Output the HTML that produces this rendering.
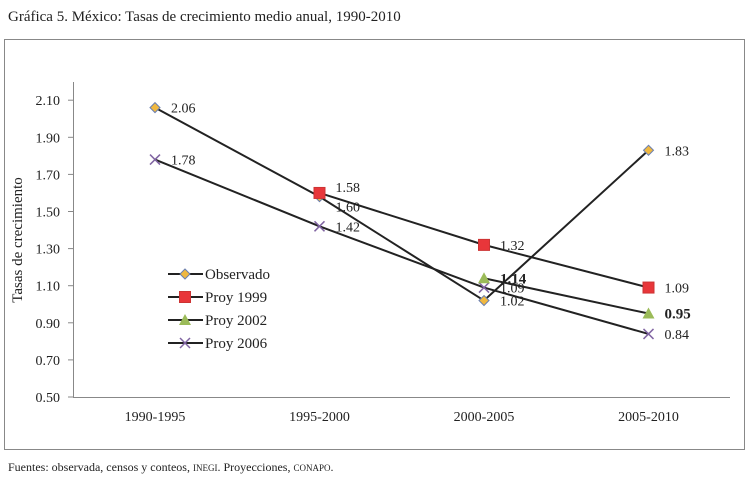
<!DOCTYPE html>
<html><head><meta charset="utf-8"><style>
body{margin:0;background:#fff;width:752px;height:481px;overflow:hidden;font-family:"Liberation Serif",serif;}
svg{position:absolute;left:0;top:0}
</style></head><body>
<svg width="752" height="481" font-family="Liberation Serif, serif">
<text x="8" y="21" font-size="15" fill="#222">Gráfica 5. México: Tasas de crecimiento medio anual, 1990-2010</text>
<rect x="4.5" y="39.5" width="740" height="410" fill="none" stroke="#888"/>
<g id="axes"></g>
<g id="series"></g>
<g id="legend"></g>
<text transform="translate(22,240) rotate(-90)" text-anchor="middle" font-size="15" fill="#222">Tasas de crecimiento</text>
<text x="8" y="471" font-size="12" fill="#222">Fuentes: observada, censos y conteos, <tspan font-size="9">INEGI</tspan>. Proyecciones, <tspan font-size="9">CONAPO</tspan>.</text>
</svg>
<script>
const categories=["1990-1995","1995-2000","2000-2005","2005-2010"];
const yTicks=[0.50,0.70,0.90,1.10,1.30,1.50,1.70,1.90,2.10];
const observado=[2.06,1.58,1.02,1.83];
const proy1999=[null,1.60,1.32,1.09];
const proy2002=[null,null,1.14,0.95];
const proy2006=[1.78,1.42,1.09,0.84];
const labels1999=["","1.58","1.32","1.09"];
const labelsObs=["2.06","1.60","1.02","1.83"];

const NS="http://www.w3.org/2000/svg";
const y=v=>397-(v-0.5)/0.2*37.1;
const x=i=>155+i*164.5;
function mk(tag,attrs,parent,text){const e=document.createElementNS(NS,tag);for(const k in attrs)e.setAttribute(k,attrs[k]);if(text!=null)e.textContent=text;parent.appendChild(e);return e;}
const ax=document.getElementById('axes');
let e=mk('line',{x1:73.5,y1:82,x2:73.5,y2:397,stroke:'#888'},ax);


e=mk('line',{x1:73,y1:397.5,x2:730,y2:397.5,stroke:'#888'},ax);


yTicks.forEach(t=>{mk('line',{x1:68,x2:73,y1:y(t),y2:y(t),stroke:'#888'},ax);
const l=mk('text',{x:60,y:y(t)+5,'text-anchor':'end','font-size':14,fill:'#222'},ax,t.toFixed(2));

});
categories.forEach((c,i)=>{
const l=mk('text',{x:x(i),y:421,'text-anchor':'middle','font-size':14,fill:'#222'},ax,c);

});
const sg=document.getElementById('series');
function marker(type,cx,cy,g){
 if(type==='diamond')return mk('path',{d:`M${cx} ${cy-5}L${cx+5} ${cy}L${cx} ${cy+5}L${cx-5} ${cy}Z`,fill:'#f0b840',stroke:'#6a7fb0','stroke-width':1},g);
 if(type==='square')return mk('rect',{x:cx-5.5,y:cy-5.5,width:11,height:11,fill:'#e8363a',stroke:'#c33'},g);
 if(type==='triangle')return mk('path',{d:`M${cx} ${cy-6}L${cx+6} ${cy+5}L${cx-6} ${cy+5}Z`,fill:'#9bbb59'},g);
 const p=mk('path',{d:`M${cx-5} ${cy-5}L${cx+5} ${cy+5}M${cx+5} ${cy-5}L${cx-5} ${cy+5}`,stroke:'#8064a2','stroke-width':1.5},g);return p;}
function drawSeries(name,vals,type,labels,fs,dy){
 const g=mk('g',{},sg);
 
 
 const pts=vals.map((v,i)=>v==null?null:[x(i),y(v)]).filter(p=>p);
 mk('polyline',{points:pts.map(p=>p.join(',')).join(' '),fill:'none',stroke:'#222','stroke-width':2},g);
 vals.forEach((v,i)=>{if(v==null)return;const m=marker(type,x(i),y(v),g);
  
  
  const off=(dy&&dy[i])||0;
  const t=mk('text',{x:x(i)+16,y:y(v)+5+off,'font-size':fs||14,fill:'#222'},g,labels?labels[i]:v.toFixed(2));
  if(fs)t.setAttribute('font-weight','bold');
  
  });
}
drawSeries('series-proy-2006',proy2006,'x');
drawSeries('series-proy-2002',proy2002,'triangle',null,15);
drawSeries('series-observado',observado,'diamond',labelsObs,null,[0,10,0,0]);
drawSeries('series-proy-1999',proy1999,'square',labels1999,null,[0,-6,0,0]);
const lg=document.getElementById('legend');
[['Observado','diamond'],['Proy 1999','square'],['Proy 2002','triangle'],['Proy 2006','x']].forEach((d,i)=>{
 const cy=274+i*23;const g=mk('g',{},lg);
 
 
 mk('line',{x1:168,x2:203,y1:cy,y2:cy,stroke:'#222','stroke-width':2},g);
 marker(d[1],185,cy,g);
 mk('text',{x:205,y:cy+5,'font-size':15,fill:'#222'},g,d[0]);
});
</script>
</body></html>
